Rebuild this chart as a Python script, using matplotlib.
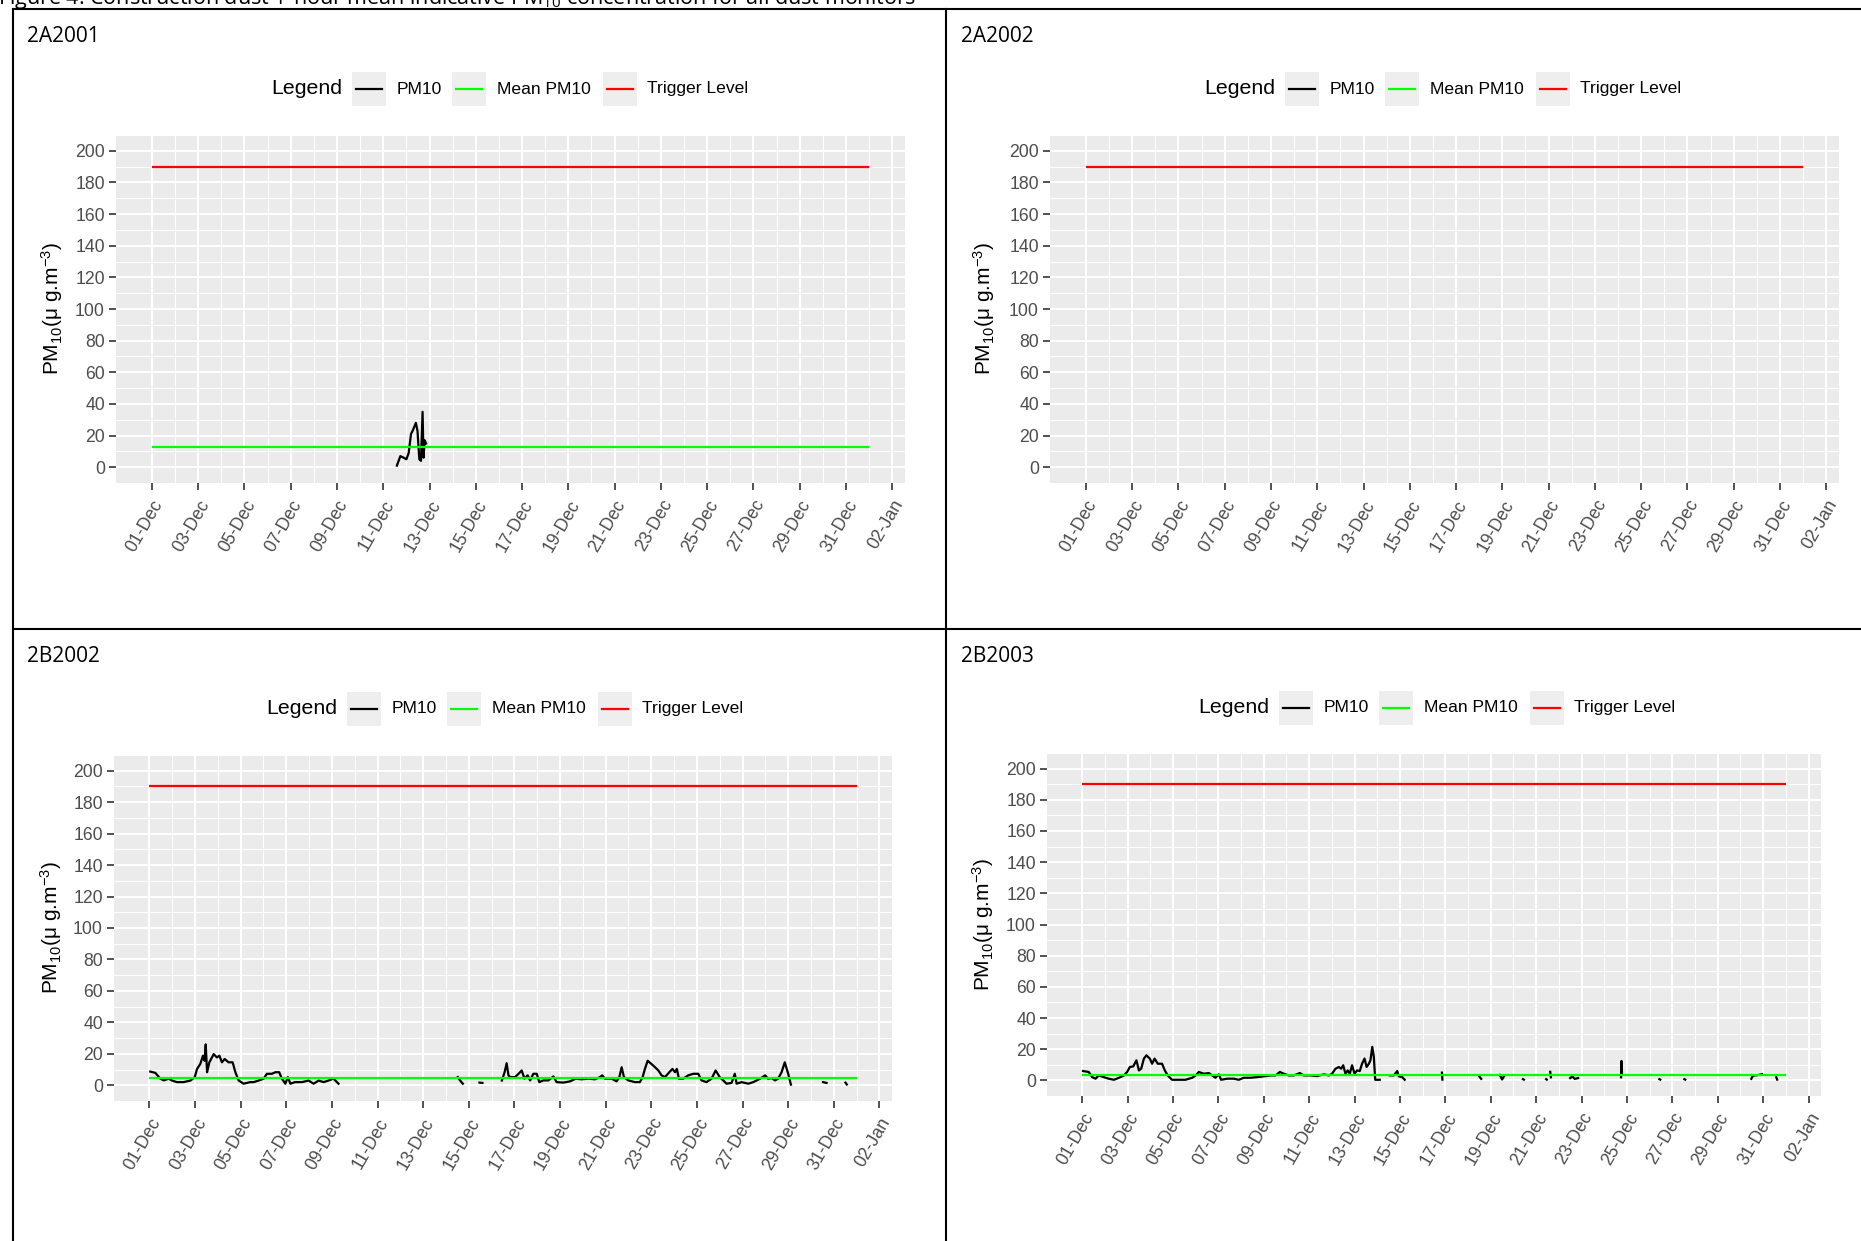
import numpy as np
import matplotlib.pyplot as plt
import matplotlib.dates as mdates
from matplotlib.patches import Rectangle
from matplotlib.lines import Line2D
from datetime import datetime

plt.rcParams['font.family'] = ['Liberation Sans', 'DejaVu Sans']
plt.rcParams['mathtext.default'] = 'regular'

nan = np.nan

# ---- data (days after 01-Dec 00:00, PM10 in ug/m3) ----
monitors = ['2A2001', '2A2002', '2B2002', '2B2003']
trigger_level = 190
mean_pm10 = [12.9, None, 4.7, 3.6]

days_2a2001 = [10.59, 10.74, 10.88, 11.0, 11.10, 11.20, 11.27, 11.41, 11.48,
               11.56, 11.63, 11.70, 11.74, 11.79, 11.85]
pm10_2a2001 = [1, 7, 6, 5, 9, 21, 23, 28, 23, 5, 4, 35, 6, 17, 15]

days_2a2002 = []
pm10_2a2002 = []

days_2b2002 = [0.04, 0.26, 0.48, 0.63, 0.85, 0.99, 1.21, 1.50, 1.80, 1.99, 2.09,
               2.23, 2.35, 2.42, 2.47, 2.53, 2.63, 2.82, 2.96, 3.07, 3.18, 3.30,
               3.47, 3.65, 3.77, 3.91, 4.13, 4.42, 4.57, 4.79, 5.01, 5.15, 5.37,
               5.52, 5.69, 5.81, 5.96, 6.07, 6.18, 6.39, 6.69, 6.98, 7.20, 7.42,
               7.64, 7.85, 8.07, 8.29, nan,
               13.52, 13.62, 13.74, nan,
               14.47, 14.60, nan,
               15.45, 15.57, 15.66, 15.74, 15.81, 16.03, 16.18, 16.32, 16.44,
               16.58, 16.69, 16.83, 16.98, 17.09, 17.27, 17.49, 17.71, 17.85,
               18.15, 18.44, 18.69, 18.95, 19.24, 19.53, 19.75, 19.85, 19.97,
               20.26, 20.48, 20.60, 20.70, 20.80, 20.99, 21.28, 21.50, 21.62,
               21.72, 21.84, 22.01, 22.16, 22.31, 22.45, 22.60, 22.82, 22.93,
               23.04, 23.12, 23.21, 23.40, 23.62, 23.84, 24.06, 24.20, 24.42,
               24.64, 24.82, 25.00, 25.15, 25.30, 25.52, 25.66, 25.74, 25.96,
               26.25, 26.47, 26.77, 26.99, 27.12, 27.27, 27.42, 27.56, 27.71,
               27.85, 28.00, 28.12, nan,
               29.53, 29.68, nan,
               30.51, 30.57]
pm10_2b2002 = [8.7, 7.9, 4.2, 3.1, 4.2, 3, 2, 2, 3, 5.2, 10.4,
               13.5, 18.8, 15.6, 26, 8.3, 14.6, 19.8, 17.7, 18.8, 14.6, 16.7,
               14.6, 14.6, 8.3, 3.1, 1, 2, 2, 3, 4.2, 7.3, 7.3,
               8.3, 8.3, 4.2, 1, 5.2, 1, 2, 2, 3, 1, 3,
               2, 3, 4.2, 1, nan,
               5.2, 3, 1, nan,
               1.7, 1.5, nan,
               3, 8.3, 14, 6.3, 5.2, 5.2, 7.3, 9.4, 4.2,
               6.3, 3.1, 7.3, 7.3, 2, 3.1, 3.1, 5.6, 2,
               1.7, 2.5, 4.2, 3.8, 4.2, 3.8, 5.2, 6.3, 4.2,
               4.2, 2.5, 5.2, 11.5, 5.2, 3.1, 2, 2, 5.2,
               10.4, 15.6, 13.5, 11.5, 9.4, 6.3, 5.2, 8.8, 10.4,
               8.3, 10.4, 4.2, 4.2, 6.3, 7.3, 7.3, 3.1, 2,
               4.2, 9.4, 5.2, 3.1, 1, 1.5, 7.3, 1, 2,
               1, 2, 4.2, 6.3, 4.2, 4.6, 3.1, 4.2, 8.3,
               14.6, 7.3, 0.4, nan,
               2, 1.5, nan,
               1.7, 0.5]

days_2b2003 = [0.04, 0.29, 0.44, 0.59, 0.73, 0.95, 1.17, 1.40, 1.62, 1.84, 1.98,
               2.10, 2.25, 2.39, 2.50, 2.60, 2.72, 2.83, 2.98, 3.08, 3.19, 3.33,
               3.52, 3.64, 3.77, 3.96, 4.26, 4.55, 4.85, 5.00, 5.14, 5.36, 5.58,
               5.73, 5.87, 6.02, 6.12, 6.39, 6.68, 6.90, 7.12, 7.42, 7.71, 8.00,
               8.30, 8.52, 8.71, 8.88, 9.10, 9.32, 9.59, 9.76, 10.06, 10.35,
               10.65, 10.87, 11.01, 11.16, 11.31, 11.41, 11.50, 11.60, 11.70,
               11.79, 11.89, 12.00, 12.11, 12.23, 12.33, 12.44, 12.53, 12.63,
               12.70, 12.78, 12.85, 12.91, 13.11, nan,
               13.55, 13.73, 13.88, 13.95, 14.10, 14.21, nan,
               15.85, 15.87, nan,
               17.50, 17.58, nan,
               18.40, 18.50, 18.60, nan,
               19.42, 19.46, nan,
               20.44, 20.47, nan,
               20.62, 20.65, nan,
               21.50, 21.60, 21.70, 21.85, nan,
               23.74, 23.76, 23.78, nan,
               25.43, 25.47, nan,
               26.53, 26.57, nan,
               29.48, 29.55, 29.80, 29.95, nan,
               30.58, 30.62]
pm10_2b2003 = [6, 5.4, 2.1, 1.1, 3.2, 2.1, 1.1, 0.4, 1.7, 3.2, 5.4,
               8.6, 9, 12.9, 6.4, 7.5, 14, 16.1, 14, 10.7, 14, 10.7,
               10.7, 6.4, 3.2, 0.4, 0.4, 0.4, 1.7, 3.2, 5.4, 4.3, 4.7,
               3.2, 1.7, 3.9, 0.4, 1.1, 1.1, 0.4, 1.7, 1.7, 2.1, 2.6,
               3.2, 3.2, 5.4, 4.3, 3.2, 3.2, 4.7, 3.2, 3.2, 2.8,
               3.9, 3.2, 4.3, 7.5, 8.6, 7.5, 9.7, 4.3, 6.4,
               4.3, 9.7, 4.3, 6.4, 6, 10.7, 14, 8.6, 10.7,
               12.9, 21.5, 15, 0.4, 0.4, nan,
               3.2, 3.2, 6, 2.6, 2.1, 0.4, nan,
               5, 0.5, nan,
               2.5, 1, nan,
               3.5, 0.6, 3, nan,
               0.8, 0.5, nan,
               0.8, 0.5, nan,
               5.5, 2, nan,
               1.5, 2.5, 1, 1.5, nan,
               2, 12.5, 4, nan,
               0.8, 0.5, nan,
               0.8, 0.5, nan,
               1, 3, 3.5, 4, nan,
               2, 0.5]

series_days = [days_2a2001, days_2a2002, days_2b2002, days_2b2003]
series_pm10 = [pm10_2a2001, pm10_2a2002, pm10_2b2002, pm10_2b2003]

start = datetime(2019, 12, 1)
end = datetime(2020, 1, 1)
tick_dates = [datetime(2019, 12, d) for d in range(1, 32, 2)] + [datetime(2020, 1, 2)]
minor_dates = [datetime(2019, 12, d) for d in range(2, 32, 2)] + [datetime(2020, 1, 1)]

# ---- layout in pixels of the 1861x1241 picture ----
W, H = 1861, 1241
fig = plt.figure(figsize=(W / 100, H / 100), dpi=100)


def fx(x):
    return x / W


def fy(y):
    return 1 - y / H


# (left, top, right, bottom) of each plotting panel
panels = [(116, 135, 905, 483), (1050, 135, 1839, 483),
          (114, 755, 892, 1101), (1047, 753, 1821, 1096)]
cell_origin = [(27, 36), (961, 36), (27, 656), (961, 656)]
legend_origin = [(271, 89), (1204, 89), (266, 709), (1198, 708)]
ylabel_x = [52, 984, 51, 983]

t0 = mdates.date2num(start)
t1 = mdates.date2num(end)
pad = 0.05 * (t1 - t0)


def draw_legend(x0, yc):
    fig.text(fx(x0), fy(yc), 'Legend', fontsize=15.3, va='center', ha='left')
    items = [('PM10', 'black', 81, 126), ('Mean PM10', '#00FF00', 181, 226),
             ('Trigger Level', 'red', 332, 376)]
    for label, color, kx, tx in items:
        fig.add_artist(Rectangle((fx(x0 + kx), fy(yc + 17)), 34 / W, 34 / H,
                                 transform=fig.transFigure, facecolor='#EEEEEE',
                                 edgecolor='none'))
        fig.add_artist(Line2D([fx(x0 + kx + 4), fx(x0 + kx + 30)], [fy(yc)] * 2,
                              transform=fig.transFigure, color=color, lw=1.6))
        fig.text(fx(x0 + tx), fy(yc), label, fontsize=12.6, va='center', ha='left')


for i, name in enumerate(monitors):
    l, t, r, b = panels[i]
    ax = fig.add_axes([fx(l), fy(b), (r - l) / W, (b - t) / H])
    ax.set_facecolor('#EBEBEB')
    for sp in ax.spines.values():
        sp.set_visible(False)

    x = t0 + np.array(series_days[i], dtype=float)
    ax.hlines(trigger_level, t0, t1, color='red', lw=1.6, zorder=3)
    if mean_pm10[i] is not None:
        ax.hlines(mean_pm10[i], t0, t1, color='#00FF00', lw=1.6, zorder=4)
    if len(x):
        ax.plot(x, series_pm10[i], color='black', lw=1.6, zorder=3)

    ax.set_xlim(t0 - pad, t1 + pad)
    ax.set_ylim(-10, 210)
    ax.set_xticks(mdates.date2num(tick_dates))
    ax.set_xticks(mdates.date2num(minor_dates), minor=True)
    ax.xaxis.set_major_formatter(mdates.DateFormatter('%d-%b'))
    ax.set_yticks(np.arange(0, 201, 20))
    ax.set_yticks(np.arange(-10, 211, 20), minor=True)
    ax.grid(which='major', color='white', lw=1.4)
    ax.grid(which='minor', color='white', lw=0.7)
    ax.set_axisbelow(True)
    ax.tick_params(which='major', length=5, width=1.2, color='#333333',
                   labelsize=12.7, labelcolor='#4D4D4D', pad=3)
    ax.tick_params(axis='x', which='major', pad=5)
    ax.tick_params(which='minor', length=0)
    plt.setp(ax.get_xticklabels(), rotation=60, ha='right', va='top',
             rotation_mode='anchor')

    fig.text(fx(ylabel_x[i]), fy((t + b) / 2), r'PM$_{10}$($\mu$ g.m$^{-3}$)',
             rotation=90, fontsize=15, ha='center', va='center')
    cx, cy = cell_origin[i]
    fig.text(fx(cx), fy(cy), name, fontsize=15, family=['Open Sans', 'DejaVu Sans'],
             ha='left', va='center')
    draw_legend(*legend_origin[i])

# table borders
border = dict(transform=fig.transFigure, color='black', lw=1.5)
fig.add_artist(Line2D([fx(13), 1], [fy(9), fy(9)], **border))
fig.add_artist(Line2D([fx(13), fx(13)], [fy(9), 0], **border))
fig.add_artist(Line2D([fx(946), fx(946)], [fy(9), 0], **border))
fig.add_artist(Line2D([fx(13), 1], [fy(629), fy(629)], **border))

# caption, cut off by the top edge as in the source
fig.text(fx(-2), fy(4), 'Figure 4: Construction dust 1-hour mean indicative PM$_{10}$ '
         'concentration for all dust monitors', fontsize=15.5,
         family=['Open Sans', 'DejaVu Sans'], ha='left', va='baseline')

fig.savefig('out.png', dpi=100)
